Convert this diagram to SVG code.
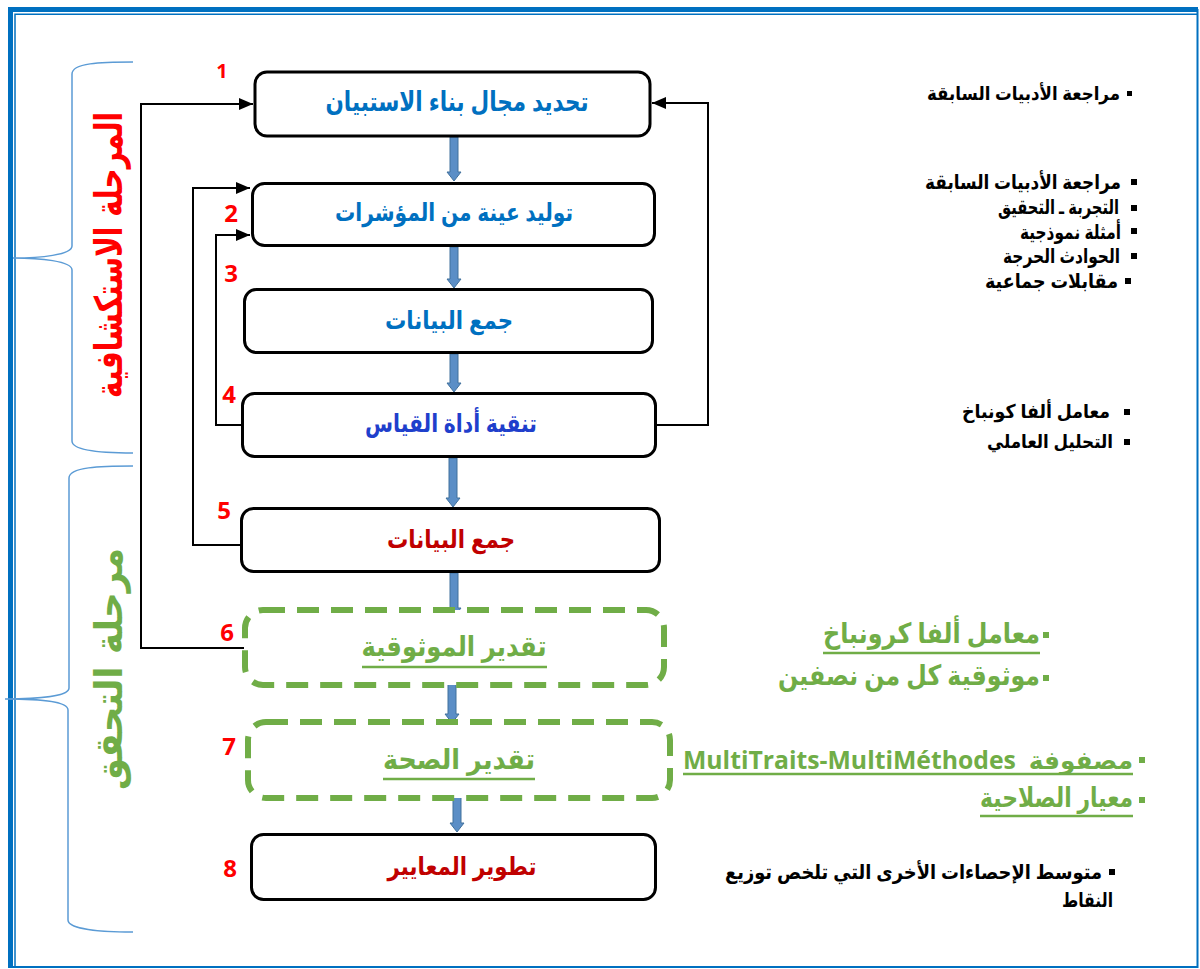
<svg xmlns="http://www.w3.org/2000/svg" width="1200" height="969" viewBox="0 0 1200 969">
  <style>
    .box { fill: #ffffff; stroke: #000000; stroke-width: 3; }
    .dbox { fill: #ffffff; stroke: #70AD47; stroke-width: 6; stroke-dasharray: 22 12; }
    .lbl { font-family: "Liberation Sans", "DejaVu Sans", sans-serif; font-weight: bold; font-size: 25px; text-anchor: middle; }
    .blue { fill: #0070C0; }
    .navy { fill: #1F3FCC; }
    .dred { fill: #C00000; }
    .green { fill: #70AD47; }
    .num { font-family: "Open Sans", "Liberation Sans", sans-serif; font-weight: bold; font-size: 24px; fill: #FF0000; text-anchor: middle; }
    .item { font-family: "Liberation Sans", "DejaVu Sans", sans-serif; font-weight: bold; font-size: 19px; fill: #000000; text-anchor: end; }
    .gitem { font-family: "Open Sans", "DejaVu Sans", sans-serif; font-weight: bold; font-size: 28px; fill: #70AD47; }
    .phase { font-family: "DejaVu Sans", sans-serif; font-weight: bold; font-size: 38px; text-anchor: middle; }
    .fb { fill: none; stroke: #000000; stroke-width: 2; }
    .flow { fill: #5B8EC6; stroke: #41719C; stroke-width: 1; }
    .brace { fill: none; stroke: #5B9BD5; stroke-width: 1.5; }
    .uline { stroke-width: 2.5; }
  </style>
  <defs>
    <marker id="head" markerUnits="userSpaceOnUse" markerWidth="14" markerHeight="12" refX="14" refY="6" viewBox="0 0 14 12" orient="auto">
      <path d="M0 0 L14 6 L0 12 Z" fill="#000000"/>
    </marker>
    <clipPath id="cut">
      <rect x="700" y="640" width="400" height="52"/>
    </clipPath>
  </defs>

  <!-- page frame -->
  <g id="frame">
    <path d="M10.5 968 V9.5 H1198" fill="none" stroke="#0070C0" stroke-width="5"/>
    <path d="M15 967 V14.3 H1197" fill="none" stroke="#0070C0" stroke-width="1.5"/>
    <path d="M1197.5 9 V967 H10" fill="none" stroke="#0070C0" stroke-width="2"/>
  </g>

  <!-- phase braces -->
  <g id="braces">
    <path class="brace" d="M133 62 C100 62 72 63 72 74 V246 C72 255 40 258 13 258 C40 258 72 261 72 270 V441 C72 450 100 453 133 453"/>
    <path class="brace" d="M133 466 C100 466 69 467 69 478 V688 C69 696 40 699 5 699 C40 699 68 701 68 710 V920 C68 929 100 932 133 932"/>
  </g>

  <!-- phase titles -->
  <g id="phase-labels">
    <text class="phase" fill="#FF0000" transform="translate(122,255) rotate(-90)" textLength="286" lengthAdjust="spacingAndGlyphs">المرحلة الاستكشافية</text>
    <text class="phase" fill="#70AD47" transform="translate(122,669) rotate(-90)" textLength="242" lengthAdjust="spacingAndGlyphs">مرحلة التحقق</text>
  </g>

  <!-- connectors -->
  <g id="connectors">
    <!-- main flow arrows -->
    <path class="flow" d="M450 137 H458 V172 H461 L454 181 L447 172 H450 Z"/>
    <path class="flow" d="M450 247 H458 V279 H461 L454 288 L447 279 H450 Z"/>
    <path class="flow" d="M450 354 H458 V383 H461 L454 392 L447 383 H450 Z"/>
    <path class="flow" d="M449 458 H457 V498 H460 L453 507 L446 498 H449 Z"/>
    <path class="flow" d="M450 573 H458 V608 H461 L454 617 L447 608 H450 Z"/>
    <path class="flow" d="M448 678 H456 V714 H459 L452 723 L445 714 H448 Z"/>
    <path class="flow" d="M453 786 H461 V823 H464 L457 832 L450 823 H453 Z"/>
    <!-- feedback loops -->
    <path class="fb" d="M244 648 H141 V104 H253" marker-end="url(#head)"/>
    <path class="fb" d="M247 545 H193 V188 H250" marker-end="url(#head)"/>
    <path class="fb" d="M241 425 H216 V235 H250" marker-end="url(#head)"/>
    <path class="fb" d="M657 425 H708 V103 H652" marker-end="url(#head)"/>
  </g>

  <!-- steps -->
  <g id="step1">
    <rect class="box" x="255" y="72" width="395" height="64" rx="12"/>
    <text class="lbl blue" x="457" y="111" style="font-size:27px" textLength="263" lengthAdjust="spacingAndGlyphs">تحديد مجال بناء الاستبيان</text>
    <text class="num" x="222" y="78" style="font-size:20px">1</text>
  </g>
  <g id="step2">
    <rect class="box" x="252.5" y="183.5" width="402" height="62" rx="12"/>
    <text class="lbl blue" x="454" y="221" textLength="238" lengthAdjust="spacingAndGlyphs">توليد عينة من المؤشرات</text>
    <text class="num" x="231" y="222">2</text>
  </g>
  <g id="step3">
    <rect class="box" x="244.5" y="289.5" width="408" height="63" rx="12"/>
    <text class="lbl blue" x="449" y="329" textLength="128" lengthAdjust="spacingAndGlyphs">جمع البيانات</text>
    <text class="num" x="231" y="282">3</text>
  </g>
  <g id="step4">
    <rect class="box" x="242.5" y="393.5" width="413" height="63" rx="12"/>
    <text class="lbl navy" x="451" y="432" textLength="172" lengthAdjust="spacingAndGlyphs">تنقية أداة القياس</text>
    <text class="num" x="229" y="403">4</text>
  </g>
  <g id="step5">
    <rect class="box" x="241.5" y="508.5" width="418" height="63" rx="12"/>
    <text class="lbl dred" x="451" y="548" textLength="128" lengthAdjust="spacingAndGlyphs">جمع البيانات</text>
    <text class="num" x="224" y="519">5</text>
  </g>
  <g id="step6">
    <rect class="dbox" x="245" y="610" width="419" height="75" rx="18"/>
    <text class="lbl green" x="454" y="656" style="font-size:28px" textLength="185" lengthAdjust="spacingAndGlyphs">تقدير الموثوقية</text>
    <line class="uline" x1="362" y1="667" x2="547" y2="667" stroke="#70AD47"/>
    <text class="num" x="227" y="641">6</text>
  </g>
  <g id="step7">
    <rect class="dbox" x="248" y="722" width="422" height="76" rx="18"/>
    <text class="lbl green" x="459" y="769" style="font-size:28px" textLength="152" lengthAdjust="spacingAndGlyphs">تقدير الصحة</text>
    <line class="uline" x1="383" y1="779" x2="535" y2="779" stroke="#70AD47"/>
    <text class="num" x="229" y="755">7</text>
  </g>
  <g id="step8">
    <rect class="box" x="251.5" y="834.5" width="404" height="65" rx="12"/>
    <text class="lbl dred" x="462" y="875" textLength="149" lengthAdjust="spacingAndGlyphs">تطوير المعايير</text>
    <text class="num" x="230" y="877">8</text>
  </g>

  <!-- side notes -->
  <g id="notes1">
    <rect x="1127" y="91" width="5" height="5"/>
    <text class="item" x="1120" y="100" textLength="193" lengthAdjust="spacingAndGlyphs">مراجعة الأدبيات السابقة</text>
  </g>
  <g id="notes2">
    <rect x="1131" y="179" width="6" height="6"/>
    <rect x="1131" y="205" width="6" height="6"/>
    <rect x="1131" y="228" width="6" height="6"/>
    <rect x="1131" y="253" width="6" height="6"/>
    <rect x="1125" y="278" width="6" height="6"/>
    <text class="item" x="1121" y="189" style="font-size:20px" textLength="196" lengthAdjust="spacingAndGlyphs">مراجعة الأدبيات السابقة</text>
    <text class="item" x="1119" y="214" style="font-size:20px" textLength="121" lengthAdjust="spacingAndGlyphs">التجربة ـ التحقيق</text>
    <text class="item" x="1121" y="239" style="font-size:20px" textLength="101" lengthAdjust="spacingAndGlyphs">أمثلة نموذجية</text>
    <text class="item" x="1120" y="263" style="font-size:20px" textLength="117" lengthAdjust="spacingAndGlyphs">الحوادث الحرجة</text>
    <text class="item" x="1118" y="288" style="font-size:20px" textLength="133" lengthAdjust="spacingAndGlyphs">مقابلات جماعية</text>
  </g>
  <g id="notes3">
    <rect x="1124" y="409" width="6" height="6"/>
    <rect x="1124" y="439" width="6" height="6"/>
    <text class="item" x="1110" y="418" textLength="148" lengthAdjust="spacingAndGlyphs">معامل ألفا كونباخ</text>
    <text class="item" x="1113" y="448" textLength="126" lengthAdjust="spacingAndGlyphs">التحليل العاملي</text>
  </g>
  <g id="notes6">
    <rect x="1043" y="632" width="6" height="6" fill="#70AD47"/>
    <rect x="1043" y="675" width="6" height="6" fill="#70AD47"/>
    <text class="gitem" x="1040" y="643" text-anchor="end" textLength="217" lengthAdjust="spacingAndGlyphs">معامل ألفا كرونباخ</text>
    <line class="uline" x1="823" y1="653" x2="1040" y2="653" stroke="#70AD47"/>
    <text class="gitem" x="1040" y="685" text-anchor="end" clip-path="url(#cut)" textLength="262" lengthAdjust="spacingAndGlyphs">موثوقية كل من نصفين</text>
  </g>
  <g id="notes7">
    <rect x="1139" y="757" width="6" height="6" fill="#70AD47"/>
    <rect x="1139" y="797" width="6" height="6" fill="#70AD47"/>
    <text class="gitem" x="1133" y="769" direction="rtl" text-anchor="start" style="font-size:25px; white-space:pre" textLength="450" lengthAdjust="spacingAndGlyphs">مصفوفة  MultiTraits-MultiMéthodes</text>
    <line class="uline" x1="683" y1="774" x2="1133" y2="774" stroke="#70AD47"/>
    <text class="gitem" x="1133" y="807" text-anchor="end" style="font-size:27px" textLength="153" lengthAdjust="spacingAndGlyphs">معيار الصلاحية</text>
    <line class="uline" x1="980" y1="816" x2="1133" y2="816" stroke="#70AD47"/>
  </g>
  <g id="notes8">
    <rect x="1109" y="869" width="6" height="6"/>
    <text class="item" x="1102" y="879" style="font-size:20px" textLength="377" lengthAdjust="spacingAndGlyphs">متوسط الإحصاءات الأخرى التي تلخص توزيع</text>
    <text class="item" x="1113" y="907" style="font-size:20px" textLength="51" lengthAdjust="spacingAndGlyphs">النقاط</text>
  </g>
</svg>
